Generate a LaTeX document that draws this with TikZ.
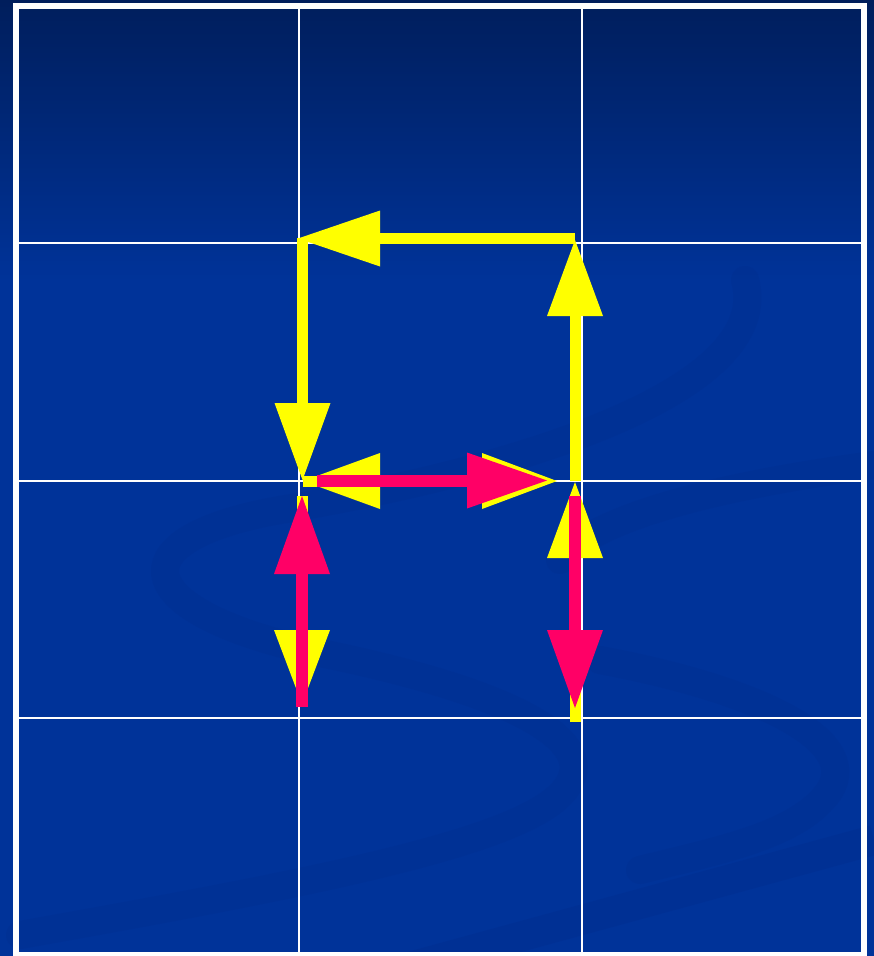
\documentclass[tikz,border=0pt]{standalone}
\usetikzlibrary{arrows.meta}
\definecolor{bgtop}{RGB}{0,30,92}
\definecolor{bgmain}{RGB}{0,51,153}
\definecolor{swirlc}{RGB}{0,44,140}
\definecolor{arrY}{RGB}{255,255,0}
\definecolor{arrR}{RGB}{255,0,102}
\tikzset{
  gridline/.style={white, line width=2pt},
  framebox/.style={white, line width=6pt},
  swirlband/.style={swirlc, line width=28pt, opacity=0.28, line cap=round},
  yline/.style={arrY, line width=11pt},
  rline/.style={arrR, line width=12pt},
  ytip/.style={-{Triangle[length=#1,width=56pt,line width=0pt]}},
}
\begin{document}
\begin{tikzpicture}[x=1pt,y=-1pt]
\useasboundingbox (0,0) rectangle (874,956);
% background
\shade[top color=bgtop, bottom color=bgmain] (0,0) rectangle (874,281);
\fill[bgmain] (0,280) rectangle (874,956);
% background swirls
\draw[swirlband] (745,280) .. controls (775,390) and (520,470) .. (280,510)
   .. controls (110,540) and (130,615) .. (330,655)
   .. controls (520,695) and (610,745) .. (560,795)
   .. controls (510,845) and (300,885) .. (20,935);
\draw[swirlband] (560,560) .. controls (600,510) and (760,480) .. (874,465);
\draw[swirlband] (600,660) .. controls (760,690) and (860,740) .. (830,790)
   .. controls (800,835) and (720,850) .. (640,870);
\draw[swirlc, line width=30pt, opacity=0.35] (874,840) -- (380,975);
% grid
\coordinate (gA) at (298.5,9);   \coordinate (gB) at (298.5,952);
\coordinate (gC) at (581.5,9);   \coordinate (gD) at (581.5,952);
\coordinate (gE) at (19,243);    \coordinate (gF) at (861,243);
\coordinate (gG) at (19,481);    \coordinate (gH) at (861,481);
\coordinate (gI) at (19,718);    \coordinate (gJ) at (861,718);
\draw[gridline] (gA) -- (gB);
\draw[gridline] (gC) -- (gD);
\draw[gridline] (gE) -- (gF);
\draw[gridline] (gG) -- (gH);
\draw[gridline] (gI) -- (gJ);
\coordinate (fA) at (16,6); \coordinate (fB) at (864,955);
\draw[framebox] (fA) rectangle (fB);
% yellow arrows
\coordinate (y1s) at (575,481);   \coordinate (y1e) at (575,240);
\coordinate (y2s) at (575,238.5); \coordinate (y2e) at (298,238.5);
\coordinate (y3s) at (302.5,238); \coordinate (y3e) at (302.5,480);
\coordinate (y4s) at (303,481);   \coordinate (y4e) at (557,481);
\coordinate (y4m) at (520,481);
\coordinate (y5s) at (302,496);   \coordinate (y5e) at (302,704);
\coordinate (y6s) at (575,722);   \coordinate (y6e) at (575,482);
\draw[yline, ytip=76pt] (y1s) -- (y1e);
\draw[yline, ytip=82pt] (y2s) -- (y2e);
\draw[yline, ytip=77pt] (y3s) -- (y3e);
\draw[yline] (y4s) -- (y4m);
\draw[yline, {Triangle[length=77pt,width=56pt,line width=0pt]}-{Triangle[length=75pt,width=56pt,line width=0pt]}] (y4s) -- (y4e);
\draw[yline, ytip=74pt] (y5s) -- (y5e);
\draw[yline, ytip=76pt] (y6s) -- (y6e);
% red arrows
\coordinate (r1s) at (317,480.5); \coordinate (r1e) at (547,480.5);
\coordinate (r2s) at (302,707);   \coordinate (r2e) at (302,496);
\coordinate (r3s) at (575,496);   \coordinate (r3e) at (575,708);
\draw[rline, ytip=80pt] (r1s) -- (r1e);
\draw[rline, ytip=78pt] (r2s) -- (r2e);
\draw[rline, ytip=78pt] (r3s) -- (r3e);
\end{tikzpicture}
\end{document}
